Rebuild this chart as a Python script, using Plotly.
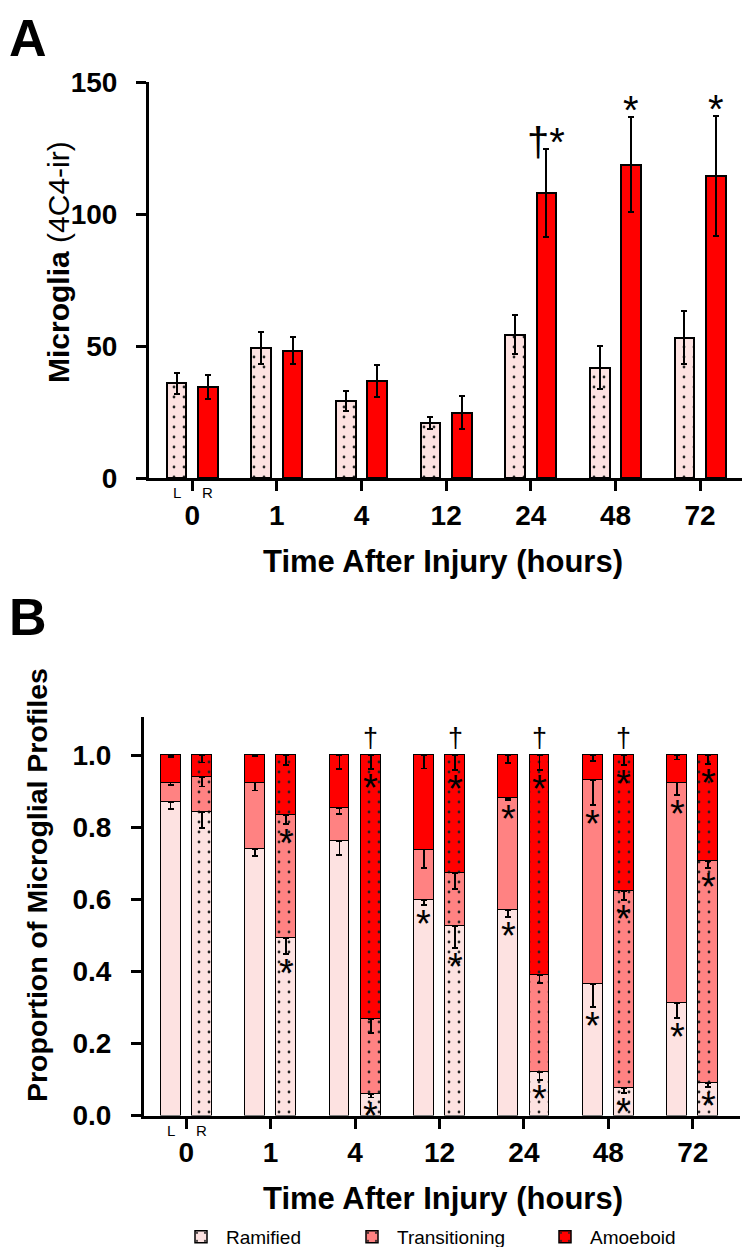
import plotly.graph_objects as go

# ---------------- data ----------------
hours = ["0", "1", "4", "12", "24", "48", "72"]

# Panel A: microglia counts (4C4-ir), left (L) and right (R) hemisphere
a_left = [35.8, 49.2, 29.1, 20.8, 54.3, 41.8, 53.1]
a_left_err = [3.9, 6.0, 3.8, 2.4, 7.3, 8.1, 10.1]
a_right = [34.6, 48.2, 36.8, 24.7, 108.1, 118.6, 114.3]
a_right_err = [4.6, 5.2, 6.1, 6.3, 16.7, 18.0, 22.8]
a_right_marks = ["", "", "", "", "†*", "*", "*"]

# Panel B: proportions of microglial profiles
b_left_ram = [0.870, 0.739, 0.761, 0.599, 0.571, 0.365, 0.313]
b_left_trans = [0.054, 0.185, 0.092, 0.139, 0.310, 0.567, 0.611]
b_left_amoe = [0.076, 0.076, 0.147, 0.262, 0.119, 0.068, 0.076]
b_left_ram_err = [0.020, 0.018, 0.039, 0.015, 0.019, 0.063, 0.043]
b_left_trans_err = [0.007, 0.022, 0.016, 0.050, 0.005, 0.070, 0.034]
b_left_amoe_err = [0.005, 0.003, 0.038, 0.037, 0.022, 0.015, 0.012]

b_right_ram = [0.842, 0.492, 0.060, 0.525, 0.120, 0.077, 0.089]
b_right_trans = [0.097, 0.343, 0.207, 0.149, 0.270, 0.545, 0.616]
b_right_amoe = [0.061, 0.165, 0.733, 0.326, 0.610, 0.378, 0.295]
b_right_ram_err = [0.044, 0.044, 0.010, 0.060, 0.021, 0.015, 0.010]
b_right_trans_err = [0.026, 0.025, 0.039, 0.046, 0.023, 0.023, 0.018]
b_right_amoe_err = [0.020, 0.027, 0.039, 0.040, 0.040, 0.028, 0.025]

# significance flags
b_left_ram_star = [0, 0, 0, 1, 1, 1, 1]
b_left_trans_star = [0, 0, 0, 0, 1, 1, 1]
b_left_amoe_star = [0, 0, 0, 0, 0, 0, 0]
b_right_ram_star = [0, 1, 1, 1, 1, 1, 1]
b_right_trans_star = [0, 1, 0, 0, 0, 1, 1]
b_right_amoe_star = [0, 0, 1, 1, 1, 1, 1]
b_right_dagger = [0, 0, 1, 1, 1, 1, 0]

series_names = ["Ramified", "Transitioning", "Amoeboid"]

# ---------------- style ----------------
FONT = "Liberation Sans"
C_RAM = "#FDE2E1"
C_TRANS = "#FF8282"
C_AMOE = "#FF0000"
OFF = 0.185
BW = 0.235
PAGE = 8                      # default page margin around the plot div
W, H = 750 - PAGE, 1255 - 2 * PAGE

idx = list(range(len(hours)))
xl = [i - OFF for i in idx]
xr = [i + OFF for i in idx]


def fx(px):   # window x pixel -> paper fraction
    return (px - PAGE) / W


def fy(px):   # window y pixel -> paper fraction
    return 1 - (px - PAGE) / H


def dots(bg):
    return dict(shape=".", fgcolor="#222222", bgcolor=bg, size=10, solidity=0.06, fillmode="replace")


def err(arr, sym=True):
    if sym:
        return dict(type="data", array=arr, color="black", thickness=2, width=3)
    return dict(type="data", symmetric=False, array=[0] * len(arr), arrayminus=arr,
                color="black", thickness=1.8, width=3)


fig = go.Figure()

# ---- Panel A ----
fig.add_trace(go.Bar(x=xl, y=a_left, width=BW, error_y=err(a_left_err),
                     marker=dict(color=C_RAM, pattern=dots(C_RAM), line=dict(color="black", width=2)),
                     xaxis="x", yaxis="y", showlegend=False))
fig.add_trace(go.Bar(x=xr, y=a_right, width=BW, error_y=err(a_right_err),
                     marker=dict(color=C_AMOE, line=dict(color="black", width=2)),
                     xaxis="x", yaxis="y", showlegend=False))

# ---- Panel B ----
left_vals = [b_left_ram, b_left_trans, b_left_amoe]
left_errs = [b_left_ram_err, b_left_trans_err, b_left_amoe_err]
right_vals = [b_right_ram, b_right_trans, b_right_amoe]
right_errs = [b_right_ram_err, b_right_trans_err, b_right_amoe_err]
colors = [C_RAM, C_TRANS, C_AMOE]
legend_ids = ["legend", "legend2", "legend3"]

for k in range(3):
    fig.add_trace(go.Bar(x=xl, y=left_vals[k], width=BW, error_y=err(left_errs[k], False),
                         marker=dict(color=colors[k], line=dict(color="black", width=1.5)),
                         xaxis="x2", yaxis="y2", showlegend=False, name=series_names[k]))
for k in range(3):
    fig.add_trace(go.Bar(x=xr, y=right_vals[k], width=BW, error_y=err(right_errs[k], False),
                         marker=dict(color=colors[k], pattern=dots(colors[k]),
                                     line=dict(color="black", width=1.5)),
                         xaxis="x2", yaxis="y2", showlegend=True, name=series_names[k],
                         legend=legend_ids[k]))

annotations = []

# significance marks panel A
for i in idx:
    if a_right_marks[i]:
        annotations.append(dict(x=xr[i], y=a_right[i] + a_right_err[i], xref="x", yref="y",
                                text=a_right_marks[i], showarrow=False, yanchor="bottom",
                                yshift=-17, font=dict(family=FONT, size=40, color="black")))

# stars panel B
left_flags = [b_left_ram_star, b_left_trans_star, b_left_amoe_star]
right_flags = [b_right_ram_star, b_right_trans_star, b_right_amoe_star]
for xs, vals, errs, flags in [(xl, left_vals, left_errs, left_flags),
                              (xr, right_vals, right_errs, right_flags)]:
    for i in idx:
        cum = 0.0
        for k in range(3):
            cum += vals[k][i]
            if flags[k][i]:
                annotations.append(dict(x=xs[i], y=cum - errs[k][i], xref="x2", yref="y2",
                                        text="*", showarrow=False, yanchor="top", yshift=4,
                                        font=dict(family=FONT, size=38, color="black")))
for i in idx:
    if b_right_dagger[i]:
        annotations.append(dict(x=xr[i], y=1.0, xref="x2", yref="y2", text="†", showarrow=False,
                                yanchor="bottom", yshift=0, font=dict(family=FONT, size=27, color="black")))


def px_ann(text, x, y, size, bold=False, angle=0, xanchor="center", yanchor="middle"):
    return dict(text=text, x=fx(x), y=fy(y), xref="paper", yref="paper", showarrow=False,
                textangle=angle, xanchor=xanchor, yanchor=yanchor, borderpad=0,
                font=dict(family=FONT, size=size, color="black", weight="bold" if bold else "normal"))


annotations += [
    px_ann("A", PAGE, PAGE, 52, True, xanchor="left", yanchor="top"),
    px_ann("B", PAGE, 617, 52, True, xanchor="left"),
    px_ann("<b>Microglia</b> (4C4-ir)", 58, 262, 30, angle=-90),
    px_ann("Time After Injury (hours)", 443, 561, 31, True),
    px_ann("Proportion of Microglial Profiles", 37, 885, 28.5, True, angle=-90),
    px_ann("Time After Injury (hours)", 443, 1198, 31, True),
]
# L / R labels under the 0 h bars
for xa, ya in [("x", "y"), ("x2", "y2")]:
    annotations.append(dict(text="L", x=xl[0], y=0, xref=xa, yref=ya, yanchor="top", yshift=-4,
                            showarrow=False, font=dict(family=FONT, size=15, color="black")))
    annotations.append(dict(text="R", x=xr[0], y=0, xref=xa, yref=ya, yanchor="top", yshift=-4,
                            showarrow=False, font=dict(family=FONT, size=15, color="black")))

axis_common = dict(showline=True, linewidth=3, linecolor="black", ticks="outside", ticklen=10,
                   tickwidth=3, tickcolor="black", showgrid=False, zeroline=False, automargin=False,
                   tickfont=dict(family=FONT, size=28, color="black", weight="bold"))

legend_common = dict(orientation="h", yanchor="middle", xanchor="left", y=fy(1237),
                     font=dict(family=FONT, size=19, color="black"), itemwidth=40,
                     bgcolor="rgba(0,0,0,0)")
legend_text_x = [226, 397, 590]

fig.update_layout(
    width=W, height=H, margin=dict(l=0, r=0, t=0, b=0, autoexpand=False),
    paper_bgcolor="white", plot_bgcolor="white",
    barmode="stack", bargap=0,
    font=dict(family=FONT, color="black"),
    xaxis=dict(domain=[fx(149), fx(745)], range=[-0.51, 6.53], tickvals=idx, ticktext=hours,
               anchor="y", **axis_common),
    yaxis=dict(domain=[fy(478), fy(82)], range=[0, 150], tickvals=[0, 50, 100, 150],
               anchor="x", ticklabelstandoff=13, **axis_common),
    xaxis2=dict(domain=[fx(144), fx(740)], range=[-0.50, 6.56], tickvals=idx, ticktext=hours,
                anchor="y2", **axis_common),
    yaxis2=dict(domain=[fy(1115.5), fy(717)], range=[0, 1.106],
                tickvals=[0, 0.2, 0.4, 0.6, 0.8, 1.0], tickformat=".1f", anchor="x2",
                ticklabelstandoff=14, **axis_common),
    legend=dict(x=fx(legend_text_x[0] - 50), **legend_common),
    legend2=dict(x=fx(legend_text_x[1] - 50), **legend_common),
    legend3=dict(x=fx(legend_text_x[2] - 50), **legend_common),
    annotations=annotations,
)

fig.write_html("out.html")
